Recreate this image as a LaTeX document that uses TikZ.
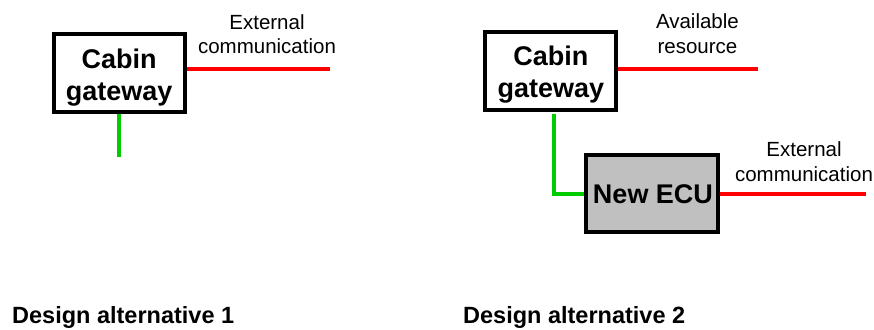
\documentclass[tikz,border=0pt]{standalone}
\usepackage{fontspec}
\setmainfont{Liberation Sans}
\definecolor{linkred}{RGB}{255,0,0}
\definecolor{linkgreen}{RGB}{0,204,0}
\definecolor{ecugray}{RGB}{192,192,192}
\begin{document}
\begin{tikzpicture}[x=1pt,y=-1pt,
  unitbox/.style={draw=black,line width=4pt,fill=white,inner sep=0pt,
    minimum width=131pt,minimum height=77.5pt},
  boxtext/.style={inner sep=0pt,align=center,font=\fontsize{27}{32}\selectfont\bfseries},
  note/.style={inner sep=0pt,align=center,font=\fontsize{20.5}{24.5}\selectfont},
  caption/.style={inner sep=0pt,anchor=base west,font=\fontsize{23.5}{28}\selectfont\bfseries},
  redlink/.style={draw=linkred,line width=4pt},
  greenlink/.style={draw=linkgreen,line width=4pt}]
\useasboundingbox (0,0) rectangle (874,329);

% ---- alternative 1 ----
\node[unitbox] (gw1) at (119.2,73.2) {};
\node[boxtext] (gw1t) at (119.2,77.4) {Cabin\\gateway};
\coordinate (ext1) at (330,69.2);
\coordinate (bus1) at (119.2,157);
\draw[redlink] (gw1.east |- ext1) -- (ext1);
\draw[greenlink] (gw1.south) -- (bus1);
\node[note] (ext1t) at (267,34.3) {External\\communication};
\node[caption] (cap1) at (12,323) {Design alternative 1};

% ---- alternative 2 ----
\node[unitbox] (gw2) at (550.8,71.2) {};
\node[boxtext] (gw2t) at (550.8,74.6) {Cabin\\gateway};
\coordinate (res2) at (758,69.3);
\draw[redlink] (gw2.east |- res2) -- (res2);
\node[note] (res2t) at (697.4,33.8) {Available\\resource};

\node[unitbox,fill=ecugray,line width=3.5pt,minimum width=132pt,minimum height=77pt]
  (ecu) at (652.2,193.7) {};
\node[boxtext] (ecut) at (653,194.4) {New ECU};
\coordinate (ext2) at (866,194.3);
\coordinate (bend2) at (554,193.7);
\draw[redlink] (ecu.east |- ext2) -- (ext2);
\draw[greenlink] ([yshift=-2pt]gw2.south -| bend2) -- (bend2) -- (ecu.west);
\node[note] (ext2t) at (804,161.8) {External\\communication};
\node[caption] (cap2) at (463,323) {Design alternative 2};
\end{tikzpicture}
\end{document}
